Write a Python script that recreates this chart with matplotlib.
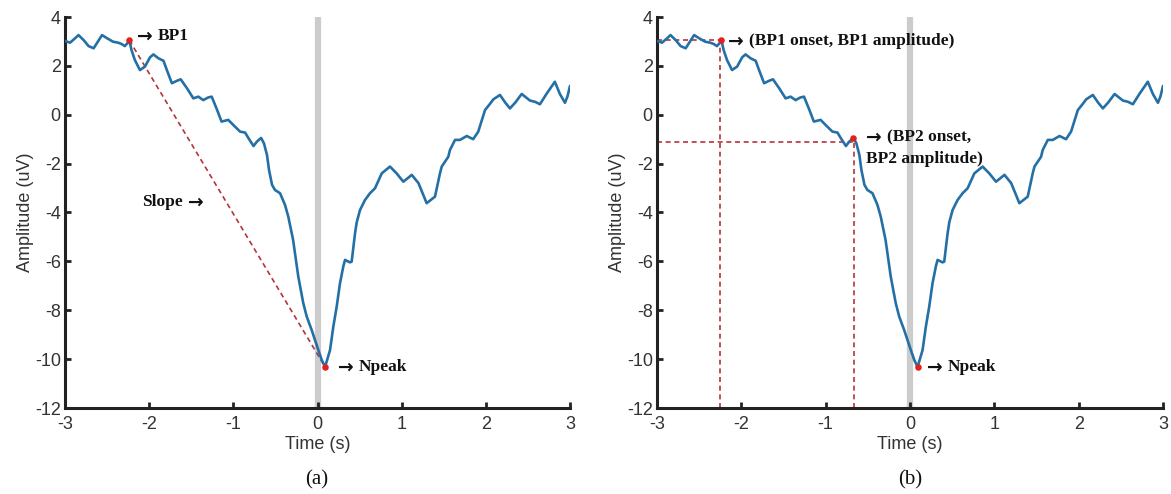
import matplotlib
matplotlib.use("Agg")
import matplotlib.pyplot as plt

plt.rcParams["axes.unicode_minus"] = False

# ---- data ----
time_s = [-3.0, -2.94, -2.88, -2.84, -2.78, -2.72, -2.66, -2.61, -2.56, -2.50,
          -2.43, -2.37, -2.33, -2.29, -2.26, -2.236, -2.21, -2.17, -2.11, -2.05,
          -1.99, -1.95, -1.89, -1.83, -1.79, -1.73, -1.67, -1.625, -1.55, -1.475,
          -1.416, -1.357, -1.297, -1.257, -1.2, -1.14, -1.06, -1.0, -0.92, -0.86,
          -0.82, -0.76, -0.72, -0.67, -0.636, -0.60, -0.576, -0.54, -0.505, -0.445,
          -0.386, -0.347, -0.29, -0.228, -0.169, -0.128, -0.069, 0.01, 0.05, 0.09,
          0.149, 0.188, 0.228, 0.267, 0.307, 0.327, 0.386, 0.406, 0.446, 0.466,
          0.505, 0.564, 0.624, 0.683, 0.763, 0.861, 0.94, 1.02, 1.12, 1.2,
          1.297, 1.396, 1.455, 1.476, 1.554, 1.574, 1.634, 1.693, 1.773, 1.85,
          1.91, 1.99, 2.05, 2.089, 2.168, 2.23, 2.287, 2.35, 2.426, 2.525,
          2.584, 2.643, 2.72, 2.82, 2.88, 2.94, 2.97, 3.0]
amplitude_uv = [3.02, 2.95, 3.13, 3.26, 3.06, 2.81, 2.72, 2.99, 3.26, 3.13,
                2.99, 2.95, 2.90, 2.81, 2.92, 3.05, 2.65, 2.24, 1.83, 1.97,
                2.35, 2.47, 2.31, 2.21, 1.83, 1.29, 1.39, 1.45, 1.08, 0.67,
                0.74, 0.60, 0.71, 0.74, 0.26, -0.28, -0.21, -0.42, -0.69, -0.73,
                -0.96, -1.28, -1.10, -0.95, -1.17, -1.65, -2.26, -2.87, -3.08, -3.21,
                -3.69, -4.17, -5.12, -6.63, -7.71, -8.26, -8.81, -9.63, -10.03, -10.32,
                -9.63, -8.67, -7.85, -6.90, -6.20, -5.94, -6.04, -6.01, -4.85, -4.40,
                -3.90, -3.49, -3.21, -3.01, -2.40, -2.12, -2.40, -2.74, -2.46, -2.80,
                -3.62, -3.35, -2.40, -2.12, -1.72, -1.44, -1.03, -1.03, -0.87, -1.00,
                -0.69, 0.19, 0.45, 0.63, 0.81, 0.50, 0.26, 0.50, 0.85, 0.58,
                0.53, 0.43, 0.85, 1.35, 0.85, 0.49, 0.75, 1.18]

bp1 = (-2.236, 3.05)
bp2 = (-0.67, -0.95)
npeak = (0.09, -10.32)
bp2_guide_y = -1.1
bp1_guide_x = -2.25
bp2_guide_x = -0.66

x_ticks = [-3, -2, -1, 0, 1, 2, 3]
y_ticks = [-12, -10, -8, -6, -4, -2, 0, 2, 4]
x_label = "Time (s)"
y_label = "Amplitude (uV)"
captions = ["(a)", "(b)"]

# ---- styling ----
W, H = 1171, 494
fig = plt.figure(figsize=(W / 100, H / 100), dpi=100)
curve_col = "#2470a6"
dash_col = "#b5343a"
dot_col = "#e3201b"
axis_col = "#222222"
serif = ["Liberation Serif", "DejaVu Serif"]
sans = ["Liberation Sans", "DejaVu Sans"]
ARROW = "\u2192"


def make_axes(left_px, right_px):
    bottom_px, top_px = 408, 17
    ax = fig.add_axes([left_px / W, 1 - bottom_px / H,
                       (right_px - left_px) / W, (bottom_px - top_px) / H])
    ax.set_xlim(-3, 3)
    ax.set_ylim(-12, 4)
    ax.set_xticks(x_ticks)
    ax.set_yticks(y_ticks)
    for s in ("top", "right"):
        ax.spines[s].set_visible(False)
    for s in ("left", "bottom"):
        ax.spines[s].set_linewidth(2.2)
        ax.spines[s].set_color(axis_col)
    ax.tick_params(direction="in", length=4, width=2, colors=axis_col,
                   labelsize=13, labelcolor="#333333")
    ax.tick_params(axis="x", pad=6)
    ax.tick_params(axis="y", pad=3)
    for lab in ax.get_xticklabels() + ax.get_yticklabels():
        lab.set_family(sans)
    ax.set_xlabel(x_label, fontsize=13, family=sans, color="#333333", labelpad=2)
    ax.set_ylabel(y_label, fontsize=13, family=sans, color="#333333", labelpad=0.5)
    ax.axvline(0, color="#cccccc", lw=4.5, zorder=1)
    ax.plot(time_s, amplitude_uv, color=curve_col, lw=1.9, zorder=3,
            solid_joinstyle="round", solid_capstyle="round")
    return ax


txt_kw = dict(fontsize=12.5, fontweight="bold", family=serif, color="#111111",
              va="center", ha="left")
arr_kw = dict(fontsize=13.5, fontweight="bold", family=["DejaVu Sans"],
              color="#111111", va="center", ha="left")


def arrow_label(ax, x, y, text):
    ax.text(x, y, ARROW, **arr_kw)
    ax.annotate(text, (x, y), xytext=(15, 0), textcoords="offset points", **txt_kw)


# ---- panel (a) ----
ax1 = make_axes(65, 570)
ax1.plot([bp1[0], npeak[0]], [bp1[1], npeak[1]], color=dash_col, lw=1.2,
         linestyle=(0, (3, 2.2)), zorder=2)
ax1.scatter([bp1[0], npeak[0]], [bp1[1], npeak[1]], s=22, color=dot_col, zorder=5,
            linewidths=0)
arrow_label(ax1, -2.145, 3.22, "BP1")
ax1.text(-1.54, -3.57, ARROW, **arr_kw)
ax1.annotate("Slope", (-1.54, -3.57), xytext=(-4, 0), textcoords="offset points",
             **{**txt_kw, "ha": "right"})
arrow_label(ax1, 0.247, -10.33, "Npeak")

# ---- panel (b) ----
ax2 = make_axes(657, 1163)
dkw = dict(color=dash_col, lw=1.2, linestyle=(0, (3, 2.2)), zorder=2)
ax2.plot([-3, bp1[0]], [bp1[1], bp1[1]], **dkw)
ax2.plot([bp1_guide_x, bp1_guide_x], [-12, bp1[1]], **dkw)
ax2.plot([-3, bp2[0]], [bp2_guide_y, bp2_guide_y], **dkw)
ax2.plot([bp2_guide_x, bp2_guide_x], [-12, bp2[1]], **dkw)
ax2.scatter([bp1[0], bp2[0], npeak[0]], [bp1[1], bp2[1], npeak[1]], s=22,
            color=dot_col, zorder=5, linewidths=0)
arrow_label(ax2, -2.155, 3.0, "(BP1 onset, BP1 amplitude)")
arrow_label(ax2, -0.52, -0.92, "(BP2 onset,")
ax2.text(-0.52, -1.82, "BP2 amplitude)", **txt_kw)
arrow_label(ax2, 0.198, -10.33, "Npeak")

# ---- captions ----
fig.text(317 / W, 1 - 480 / H, captions[0], fontsize=15, family=serif,
         ha="center", va="center", color="#111111")
fig.text(910 / W, 1 - 480 / H, captions[1], fontsize=15, family=serif,
         ha="center", va="center", color="#111111")

fig.savefig("out.png", dpi=100, facecolor="white")
